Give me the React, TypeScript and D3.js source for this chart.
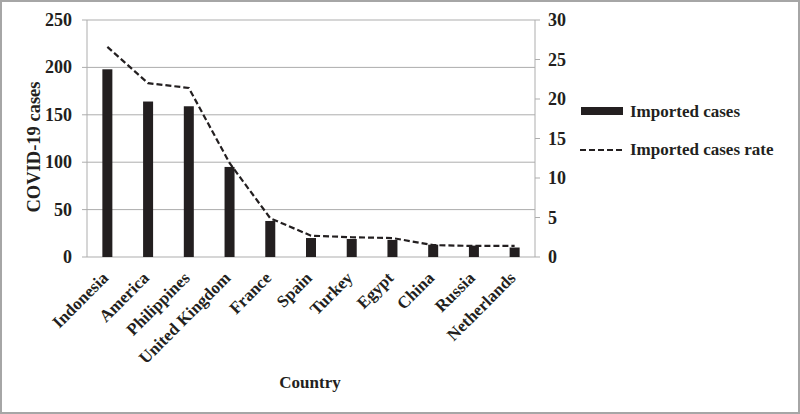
import { useEffect, useRef } from "react";
import * as d3 from "d3";

const countries = [
  "Indonesia",
  "America",
  "Philippines",
  "United Kingdom",
  "France",
  "Spain",
  "Turkey",
  "Egypt",
  "China",
  "Russia",
  "Netherlands",
];
const importedCases = [198, 164, 159, 95, 38, 20, 19, 18, 13, 12, 10];
const importedRate = [26.6, 22.0, 21.4, 11.9, 4.9, 2.7, 2.5, 2.4, 1.5, 1.4, 1.4];
const leftTicks = [0, 50, 100, 150, 200, 250];
const rightTicks = [0, 5, 10, 15, 20, 25, 30];

const W = 800;
const H = 414;
const font = "'Liberation Serif', 'Times New Roman', serif";

const App = () => {
  const ref = useRef<SVGSVGElement>(null);

  useEffect(() => {
    const svg = d3.select(ref.current);
    svg.selectAll("*").remove();

    const left = 87;
    const right = 535;
    const top = 20;
    const bottom = 257;

    const x = d3.scaleBand().domain(countries).range([left, right]);
    const y = d3.scaleLinear().domain([0, 250]).range([bottom, top]);
    const y2 = d3.scaleLinear().domain([0, 30]).range([bottom, top]);

    // outer frame
    svg
      .append("rect")
      .attr("x", 1)
      .attr("y", 1)
      .attr("width", W - 2)
      .attr("height", H - 2)
      .attr("fill", "white")
      .attr("stroke", "#a6a6a6")
      .attr("stroke-width", 2);

    // gridlines
    svg
      .append("g")
      .selectAll("line")
      .data(leftTicks)
      .join("line")
      .attr("x1", left - 5)
      .attr("x2", right)
      .attr("y1", (d) => y(d))
      .attr("y2", (d) => y(d))
      .attr("stroke", "#adadad")
      .attr("stroke-width", 1);

    // axes lines
    svg
      .append("line")
      .attr("x1", left)
      .attr("x2", left)
      .attr("y1", top)
      .attr("y2", bottom)
      .attr("stroke", "#adadad");
    svg
      .append("line")
      .attr("x1", right)
      .attr("x2", right)
      .attr("y1", top)
      .attr("y2", bottom)
      .attr("stroke", "#adadad");

    // right ticks
    svg
      .append("g")
      .selectAll("line")
      .data(rightTicks)
      .join("line")
      .attr("x1", right)
      .attr("x2", right + 5)
      .attr("y1", (d) => y2(d))
      .attr("y2", (d) => y2(d))
      .attr("stroke", "#adadad");

    // left labels
    svg
      .append("g")
      .selectAll("text")
      .data(leftTicks)
      .join("text")
      .attr("x", 72)
      .attr("y", (d) => y(d) + 6)
      .attr("text-anchor", "end")
      .attr("font-family", font)
      .attr("font-weight", "bold")
      .attr("font-size", 18)
      .attr("fill", "#231f20")
      .text((d) => d);

    // right labels
    svg
      .append("g")
      .selectAll("text")
      .data(rightTicks)
      .join("text")
      .attr("x", 548)
      .attr("y", (d) => y2(d) + 6)
      .attr("text-anchor", "start")
      .attr("font-family", font)
      .attr("font-weight", "bold")
      .attr("font-size", 18)
      .attr("fill", "#231f20")
      .text((d) => d);

    // bars
    const bw = 10;
    svg
      .append("g")
      .selectAll("rect")
      .data(importedCases)
      .join("rect")
      .attr("x", (d, i) => x(countries[i])! + x.bandwidth() / 2 - bw / 2)
      .attr("y", (d) => y(d))
      .attr("width", bw)
      .attr("height", (d) => bottom - y(d))
      .attr("fill", "#231f20");

    // rate line
    const line = d3
      .line<number>()
      .x((d, i) => x(countries[i])! + x.bandwidth() / 2)
      .y((d) => y2(d));
    svg
      .append("path")
      .attr("d", line(importedRate))
      .attr("fill", "none")
      .attr("stroke", "#231f20")
      .attr("stroke-width", 2.2)
      .attr("stroke-dasharray", "6,3");

    // x labels
    svg
      .append("g")
      .selectAll("text")
      .data(countries)
      .join("text")
      .attr(
        "transform",
        (d) => `translate(${x(d)! + x.bandwidth() / 2 + 2},${279}) rotate(-45)`
      )
      .attr("text-anchor", "end")
      .attr("font-family", font)
      .attr("font-weight", "bold")
      .attr("font-size", 17)
      .attr("fill", "#231f20")
      .text((d) => d);

    // axis titles
    svg
      .append("text")
      .attr("transform", "translate(40,147) rotate(-90)")
      .attr("text-anchor", "middle")
      .attr("font-family", font)
      .attr("font-weight", "bold")
      .attr("font-size", 18.5)
      .attr("fill", "#231f20")
      .text("COVID-19 cases");
    svg
      .append("text")
      .attr("x", 310)
      .attr("y", 388)
      .attr("text-anchor", "middle")
      .attr("font-family", font)
      .attr("font-weight", "bold")
      .attr("font-size", 17)
      .attr("fill", "#231f20")
      .text("Country");

    // legend
    svg
      .append("rect")
      .attr("x", 581)
      .attr("y", 107)
      .attr("width", 42)
      .attr("height", 8)
      .attr("fill", "#231f20");
    svg
      .append("text")
      .attr("x", 630)
      .attr("y", 117)
      .attr("font-family", font)
      .attr("font-weight", "bold")
      .attr("font-size", 17)
      .attr("fill", "#231f20")
      .text("Imported cases");
    svg
      .append("line")
      .attr("x1", 580)
      .attr("x2", 623)
      .attr("y1", 150)
      .attr("y2", 150)
      .attr("stroke", "#231f20")
      .attr("stroke-width", 2)
      .attr("stroke-dasharray", "6,3");
    svg
      .append("text")
      .attr("x", 630)
      .attr("y", 155)
      .attr("font-family", font)
      .attr("font-weight", "bold")
      .attr("font-size", 17)
      .attr("fill", "#231f20")
      .text("Imported cases rate");
  }, []);

  return (
    <svg
      ref={ref}
      width={W}
      height={H}
      style={{ position: "absolute", left: 0, top: 0 }}
    ></svg>
  );
};

export default App;
